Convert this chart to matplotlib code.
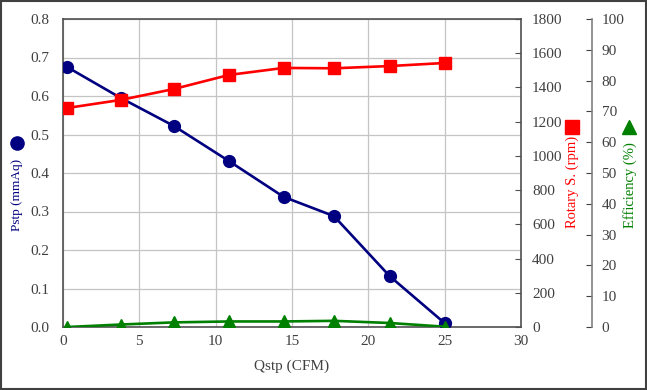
import matplotlib.pyplot as plt
from matplotlib.lines import Line2D
from matplotlib.patches import Rectangle

# data
qstp = [0.28, 3.78, 7.27, 10.87, 14.45, 17.75, 21.4, 25.0]
pstp = [0.675, 0.595, 0.522, 0.431, 0.338, 0.288, 0.132, 0.010]
rpm = [1280, 1327, 1391, 1473, 1514, 1512, 1525, 1543]
eff = [0.0, 0.8, 1.5, 1.8, 1.8, 2.0, 1.3, 0.1]

NAVY = "#000080"
RED = "#FF0000"
GREEN = "#008000"
TXT = "#404040"

plt.rcParams["font.family"] = ["Liberation Serif", "DejaVu Serif"]

W, H = 647, 390
fig = plt.figure(figsize=(W / 100, H / 100), dpi=100)
ax = fig.add_axes([63 / W, 1 - 327 / H, (521 - 63) / W, (327 - 19) / H])
ax2 = ax.twinx()
ax3 = ax.twinx()

# main axis: Pstp
ax.plot(qstp, pstp, color=NAVY, lw=1.9, marker="o", ms=8.5, zorder=3)
ax.set_xlim(0, 30)
ax.set_ylim(0, 0.8)
ax.set_xticks(range(0, 31, 5))
ax.set_yticks([i / 10 for i in range(9)])
ax.set_yticklabels([f"{i / 10:.1f}" for i in range(9)])
ax.grid(True, color="#c4c4c4", lw=0.9)
ax.set_axisbelow(True)
ax.tick_params(axis="y", direction="in", length=0, pad=10, labelsize=11, labelcolor=TXT)
ax.tick_params(axis="x", direction="in", length=0, pad=6, labelsize=11, labelcolor=TXT)
for s in ax.spines.values():
    s.set_color("#505050")
    s.set_linewidth(1.2)
ax.set_xlabel("Qstp (CFM)", fontsize=11, color=TXT, labelpad=8)

# rotary speed
ax2.plot(qstp, rpm, color=RED, lw=1.9, marker="s", ms=9, zorder=3)
ax2.set_ylim(0, 1800)
ax2.set_yticks(range(0, 1801, 200))
ax2.tick_params(axis="y", direction="in", length=4, pad=8, labelsize=11,
                labelcolor=TXT, color="#505050")
for s in ax2.spines.values():
    s.set_visible(False)

# efficiency
ax3.plot(qstp, eff, color=GREEN, lw=1.9, marker="^", ms=8.5, zorder=3)
ax3.set_ylim(0, 100)
ax3.set_yticks(range(0, 101, 10))
ax3.spines["right"].set_position(("outward", 51))
for k in ["left", "top", "bottom"]:
    ax3.spines[k].set_visible(False)
ax3.spines["right"].set_color("#808080")
ax3.spines["right"].set_linewidth(1.2)
ax3.tick_params(axis="y", direction="in", length=4, pad=7, labelsize=11,
                labelcolor=TXT, color="#404040")

# axis titles with marker symbols
fig.text(17 / W, 1 - 195 / H, "Pstp (mmAq)", rotation=90, color=NAVY,
         fontsize=9.5, ha="center", va="center")
fig.text(572 / W, 1 - 182 / H, "Rotary S. (rpm)", rotation=90, color=RED,
         fontsize=10.5, ha="center", va="center")
fig.text(630 / W, 1 - 185 / H, "Efficiency (%)", rotation=90, color=GREEN,
         fontsize=10.5, ha="center", va="center")
fig.add_artist(Line2D([17 / W], [1 - 143 / H], marker="o", ms=9.5, color=NAVY,
                      transform=fig.transFigure))
fig.add_artist(Line2D([572 / W], [1 - 127 / H], marker="s", ms=9.5, color=RED,
                      transform=fig.transFigure))
fig.add_artist(Line2D([629 / W], [1 - 127 / H], marker="^", ms=9.5, color=GREEN,
                      transform=fig.transFigure))

# outer frame
fig.add_artist(Rectangle((0.001, 0.002), 0.997, 0.996, fill=False,
                         edgecolor="#404040", lw=1.5, transform=fig.transFigure))

fig.savefig("out.png", dpi=100)
